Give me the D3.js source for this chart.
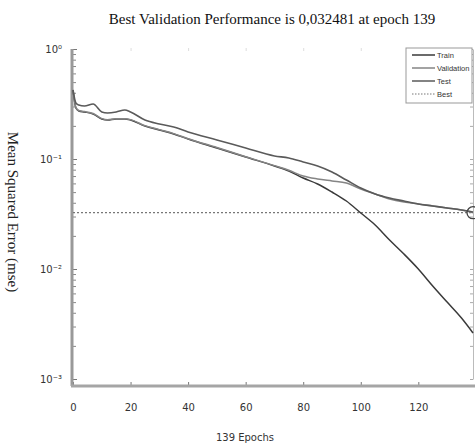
<!DOCTYPE html>
<html>
<head>
<meta charset="utf-8">
<script src="https://cdn.jsdelivr.net/npm/d3@7"></script>
<style>
  body { margin: 0; background: #fff; }
  svg { display: block; }
</style>
</head>
<body>
<svg id="chart" width="475" height="448"></svg>
<script>
// epochs sampled from the picture, and the three curves (mse)
let epochs = [0, 1, 2, 4, 7, 10, 12, 15, 18, 20, 25, 30, 35, 40, 50, 60, 70, 75, 80, 85, 90, 95, 100, 105, 110, 115, 120, 125, 130, 135, 139];
let trainMse = [0.424, 0.291, 0.273, 0.2675, 0.2565, 0.231, 0.226, 0.231, 0.231, 0.226, 0.1995, 0.1835, 0.1688, 0.152, 0.1259, 0.1042, 0.0864, 0.0778, 0.0672, 0.0593, 0.0501, 0.0415, 0.0323, 0.0251, 0.01835, 0.01369, 0.0100, 0.0070, 0.0050, 0.00358, 0.00262];
let validationMse = [0.424, 0.295, 0.276, 0.27, 0.259, 0.233, 0.228, 0.232, 0.232, 0.228, 0.201, 0.185, 0.170, 0.153, 0.127, 0.105, 0.087, 0.079, 0.070, 0.0658, 0.0631, 0.0605, 0.0534, 0.0481, 0.0433, 0.0406, 0.039, 0.0374, 0.0359, 0.0344, 0.032481];
let testMse = [0.424, 0.323, 0.310, 0.303, 0.316, 0.2675, 0.262, 0.2675, 0.279, 0.2675, 0.226, 0.208, 0.1954, 0.176, 0.149, 0.1259, 0.1065, 0.1021, 0.0939, 0.0864, 0.0762, 0.0644, 0.0545, 0.0481, 0.0442, 0.0415, 0.039, 0.0374, 0.0359, 0.0344, 0.033];
let bestEpoch = 139;
let bestValue = 0.032481;
let xTicks = [0, 20, 40, 60, 80, 100, 120];
let yTicks = [1, 0.1, 0.01, 0.001];
let legendNames = ["Train", "Validation", "Test", "Best"];

let svg = d3.select("#chart");
let plotLeft = 73, plotRight = 473, plotTop = 49, plotBottom = 379, frameBottom = 386;

let x = d3.scaleLinear().domain([0, 139]).range([plotLeft, plotRight]);
let y = d3.scaleLog().domain([0.001, 1]).range([plotBottom, plotTop]);

// minor log ticks 2..9 in every decade
let minorTicks = [];
[0.001, 0.01, 0.1].forEach(d => {
    for (let k = 2; k <= 9; k++) minorTicks.push(d * k);
});

// title
svg.append("text")
    .attr("x", 272).attr("y", 24)
    .attr("text-anchor", "middle")
    .style("font-family", "'Liberation Serif', 'Times New Roman', serif")
    .style("font-size", "15px")
    .attr("fill", "#111")
    .text("Best Validation Performance is 0,032481 at epoch 139");

// y label, reads top to bottom
svg.append("text")
    .attr("transform", "translate(8,212) rotate(90)")
    .attr("text-anchor", "middle")
    .style("font-family", "'Liberation Serif', 'Times New Roman', serif")
    .style("font-size", "15px")
    .attr("fill", "#222")
    .text("Mean Squared Error (mse)");

// x label
svg.append("text")
    .attr("x", 245).attr("y", 441)
    .attr("text-anchor", "middle")
    .style("font-family", "'DejaVu Sans', Verdana, sans-serif")
    .style("font-size", "10px")
    .attr("fill", "#333")
    .text("139 Epochs");

// x axis, ticks pointing up
let xAxis = svg.append("g")
    .attr("transform", `translate(0,${frameBottom})`)
    .call(d3.axisBottom(x).tickValues(xTicks).tickSizeInner(-4).tickSizeOuter(0).tickPadding(18));
xAxis.select(".domain").remove();
xAxis.selectAll("line").attr("stroke", "#777");
xAxis.selectAll("text")
    .style("font-family", "'DejaVu Sans', Verdana, sans-serif")
    .style("font-size", "10px")
    .attr("fill", "#333");

// faint top ticks
let topAxis = svg.append("g")
    .attr("transform", `translate(0,${plotTop - 1})`)
    .call(d3.axisTop(x).tickValues(xTicks.slice(1)).tickSizeInner(-3).tickSizeOuter(0).tickFormat(""));
topAxis.select(".domain").remove();
topAxis.selectAll("line").attr("stroke", "#ddd");

// y axis, major ticks with labels
let supers = { "0": "\u2070", "1": "\u00b9", "2": "\u00b2", "3": "\u00b3" };
let yAxis = svg.append("g")
    .attr("transform", `translate(${plotLeft},0)`)
    .call(d3.axisLeft(y).tickValues(yTicks).tickSizeInner(-4).tickSizeOuter(0).tickPadding(11)
        .tickFormat(d => {
            let e = Math.round(Math.log10(d));
            return "10" + (e < 0 ? "\u207b" : "") + supers[String(Math.abs(e))];
        }));
yAxis.select(".domain").remove();
yAxis.selectAll("line").attr("stroke", "#777");
yAxis.selectAll("text")
    .style("font-family", "'DejaVu Sans', Verdana, sans-serif")
    .style("font-size", "10px")
    .attr("fill", "#333");

let yMinor = svg.append("g")
    .attr("transform", `translate(${plotLeft},0)`)
    .call(d3.axisLeft(y).tickValues(minorTicks).tickSizeInner(-3).tickSizeOuter(0).tickFormat(""));
yMinor.select(".domain").remove();
yMinor.selectAll("line").attr("stroke", "#888");

// right side ticks
let yRight = svg.append("g")
    .attr("transform", `translate(${plotRight},0)`)
    .call(d3.axisRight(y).tickValues(yTicks.concat(minorTicks)).tickSizeInner(-3).tickSizeOuter(0).tickFormat(""));
yRight.select(".domain").attr("stroke", "#bbb");
yRight.selectAll("line").attr("stroke", "#aaa");

// frame, left and bottom
svg.append("line")
    .attr("x1", plotLeft - 1).attr("x2", plotLeft - 1)
    .attr("y1", plotTop).attr("y2", frameBottom)
    .attr("stroke", "#999").attr("stroke-width", 3);
svg.append("line")
    .attr("x1", plotLeft - 2).attr("x2", plotRight + 2)
    .attr("y1", frameBottom).attr("y2", frameBottom)
    .attr("stroke", "#a5a5a5").attr("stroke-width", 3);

// best line
svg.append("line")
    .attr("x1", x(0)).attr("x2", x(139))
    .attr("y1", y(bestValue)).attr("y2", y(bestValue))
    .attr("stroke", "#777").attr("stroke-width", 1.2)
    .attr("stroke-dasharray", "2,2");

// curves
let line = d3.line()
    .x((d, i) => x(epochs[i]))
    .y(d => y(d))
    .curve(d3.curveMonotoneX);

let series = [
    { values: trainMse, color: "#3a3a3a", width: 1.5 },
    { values: validationMse, color: "#858585", width: 1.5 },
    { values: testMse, color: "#5a5a5a", width: 1.6 }
];
series.forEach(s => {
    svg.append("path")
        .attr("d", line(s.values))
        .attr("fill", "none")
        .attr("stroke", s.color)
        .attr("stroke-width", s.width);
});

// best point circle
svg.append("circle")
    .attr("cx", x(bestEpoch)).attr("cy", y(bestValue))
    .attr("r", 6)
    .attr("fill", "none")
    .attr("stroke", "#444")
    .attr("stroke-width", 1.3);

// legend
let legend = svg.append("g").attr("transform", "translate(406,48)");
legend.append("rect")
    .attr("width", 66).attr("height", 55)
    .attr("fill", "#fff")
    .attr("stroke", "#999");
let legendStyles = [
    { color: "#3a3a3a", dash: null, w: 1.5 },
    { color: "#858585", dash: null, w: 1.5 },
    { color: "#5a5a5a", dash: null, w: 1.5 },
    { color: "#777", dash: "1.5,1.5", w: 1 }
];
legendNames.forEach((name, i) => {
    let yy = 7 + i * 13;
    legend.append("line")
        .attr("x1", 6).attr("x2", 29)
        .attr("y1", yy).attr("y2", yy)
        .attr("stroke", legendStyles[i].color)
        .attr("stroke-width", legendStyles[i].w)
        .attr("stroke-dasharray", legendStyles[i].dash);
    legend.append("text")
        .attr("x", 31).attr("y", yy + 3)
        .style("font-family", "'Liberation Sans', Arial, sans-serif")
        .style("font-size", "7.5px")
        .attr("fill", "#333")
        .text(name);
});
</script>
</body>
</html>
